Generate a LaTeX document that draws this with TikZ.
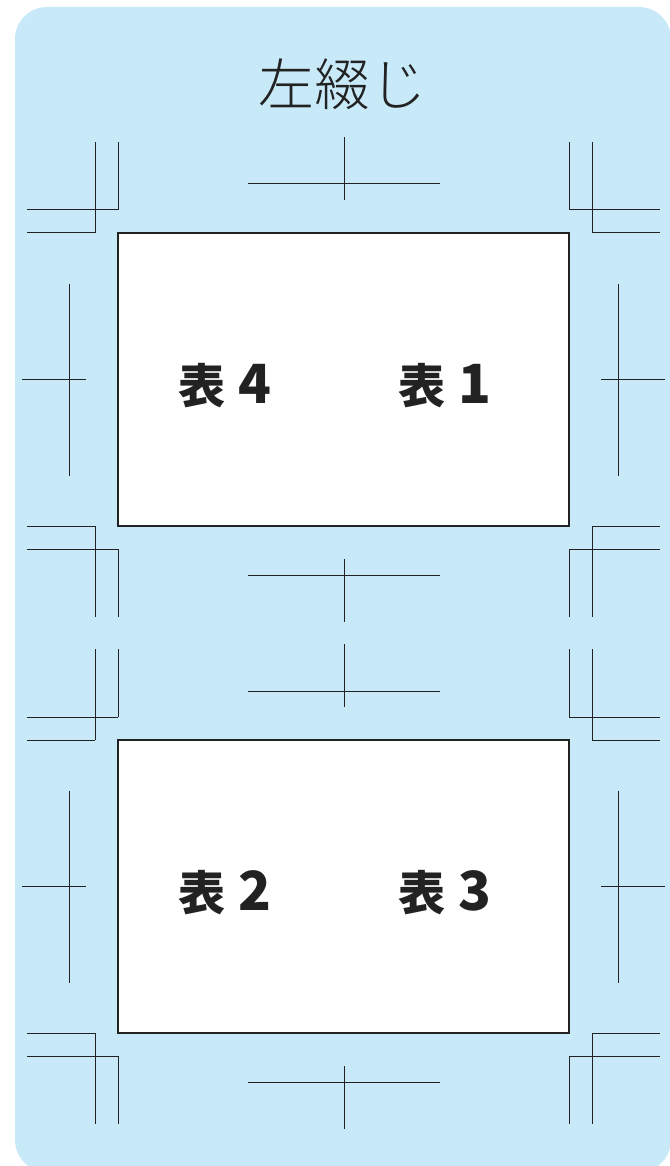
\documentclass[tikz,border=0pt]{standalone}
\usepackage{fontspec}
\newfontfamily\jpfont{Noto Sans CJK JP Light}
\newfontfamily\jpblack{Noto Sans CJK JP Black}
\usepackage{tikz}
\usetikzlibrary{calc}
\definecolor{bgblue}{HTML}{C8E9F8}
\definecolor{inkline}{HTML}{222222}
\tikzset{
  cover/.style={draw=inkline, line width=2.2pt, fill=white, inner sep=0pt,
    minimum width=451pt, minimum height=293pt},
  hyolabel/.style={anchor=base, inner sep=0pt, text=inkline, font=\jpblack},
  tombo/.style={draw=inkline, line width=1pt}
}
% corner mark: corner x, corner y, x direction, y direction
\newcommand{\cornermark}[4]{
  \draw[tombo] ( #1 , {#2+#4*23} ) -- ( #1 , {#2+#4*91} );
  \draw[tombo] ( #1 , {#2+#4*23} ) -- ( {#1+#3*91} , {#2+#4*23} );
  \draw[tombo] ( {#1+#3*23} , #2 ) -- ( {#1+#3*23} , {#2+#4*91} );
  \draw[tombo] ( {#1+#3*23} , #2 ) -- ( {#1+#3*91} , #2 );}
% centre mark above/below: x, y, direction away from the cover
\newcommand{\centermark}[3]{
  \draw[tombo] ( {#1-96} , #2 ) -- ( {#1+96} , #2 );
  \draw[tombo] ( #1 , {#2-#3*16} ) -- ( #1 , {#2+#3*47} );}
% centre mark at the sides: x, y, direction away from the cover
\newcommand{\sidemark}[3]{
  \draw[tombo] ( #1 , {#2-96} ) -- ( #1 , {#2+96} );
  \draw[tombo] ( {#1-#3*17} , #2 ) -- ( {#1+#3*47} , #2 );}
\newcommand{\hyo}[1]{{\fontsize{47}{47}\selectfont 表}\hspace{13pt}{\fontsize{54}{54}\selectfont #1}}

\begin{document}
\begin{tikzpicture}[x=1pt, y=-1pt]
  \useasboundingbox (0,0) rectangle (669,1166);
  \fill[bgblue, rounded corners=32pt] (15,7) rectangle (671,1172);
  % title
  \node[inner sep=0pt, text=inkline, font=\jpfont\fontsize{56}{56}\selectfont] (title) at (342,84) {左綴じ};
  % covers
  \node[cover] (outer) at (343.5,379.5) {};
  \node[cover] (inner) at (343.5,886.5) {};
  % labels for outer
  \node[hyolabel] (hyo4) at (225,403) {\hyo{4}};
  \node[hyolabel] (hyo1) at (445,403) {\hyo{1}};
  % labels for inner
  \node[hyolabel] (hyo2) at (225,910) {\hyo{2}};
  \node[hyolabel] (hyo3) at (445,910) {\hyo{3}};
  % marks round outer
  \cornermark{118}{233}{-1}{-1}
  \cornermark{569}{233}{1}{-1}
  \cornermark{118}{526}{-1}{1}
  \cornermark{569}{526}{1}{1}
  \centermark{344}{184}{-1}
  \centermark{344}{575}{1}
  \sidemark{69}{379.5}{-1}
  \sidemark{618}{379.5}{1}
  % marks round inner
  \cornermark{118}{740}{-1}{-1}
  \cornermark{569}{740}{1}{-1}
  \cornermark{118}{1033}{-1}{1}
  \cornermark{569}{1033}{1}{1}
  \centermark{344}{691}{-1}
  \centermark{344}{1082}{1}
  \sidemark{69}{886.5}{-1}
  \sidemark{618}{886.5}{1}
\end{tikzpicture}
\end{document}
